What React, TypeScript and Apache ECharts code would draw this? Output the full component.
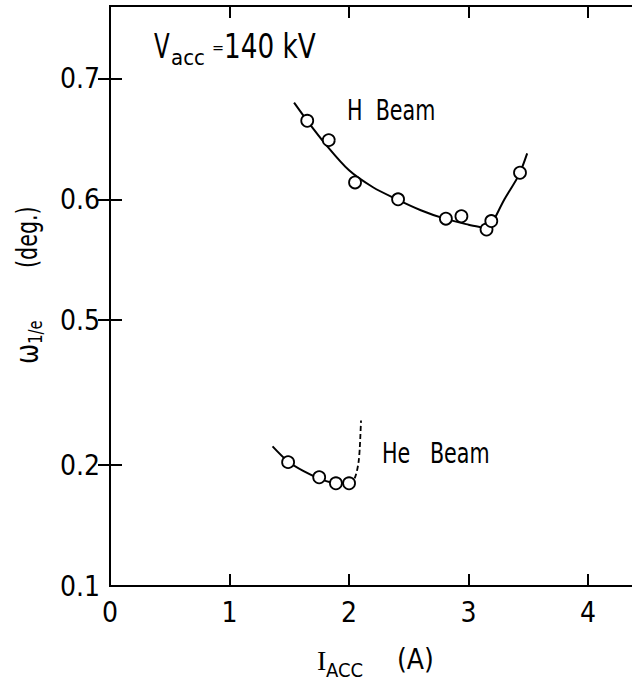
import React, { useEffect, useRef } from "react";
import * as echarts from "echarts";

// ---- data ----
const H_POINTS_X = [1.65, 1.83, 2.05, 2.41, 2.81, 2.94, 3.15, 3.19, 3.43];
const H_POINTS_Y = [0.665, 0.649, 0.614, 0.6, 0.584, 0.586, 0.575, 0.582, 0.622];
const H_CURVE_X = [1.54, 1.65, 1.8, 2.0, 2.2, 2.4, 2.6, 2.8, 3.0, 3.1, 3.16, 3.19, 3.3, 3.42, 3.49];
const H_CURVE_Y = [0.68, 0.665, 0.646, 0.624, 0.61, 0.6, 0.591, 0.584, 0.579, 0.577, 0.576, 0.579, 0.6, 0.62, 0.638];

const HE_POINTS_X = [1.49, 1.75, 1.89, 2.0];
const HE_POINTS_Y = [0.2025, 0.19, 0.185, 0.185];
const HE_CURVE_X = [1.36, 1.49, 1.62, 1.75, 1.89, 2.0];
const HE_CURVE_Y = [0.2156, 0.203, 0.195, 0.189, 0.185, 0.185];
const HE_DASH_X = [2.0, 2.03, 2.06, 2.08, 2.09, 2.1];
const HE_DASH_Y = [0.185, 0.186, 0.193, 0.203, 0.215, 0.237];

const X_TICKS = [0, 1, 2, 3, 4];
const X_MAX = 4.367;
const Y_TICK_LABELS = [0.1, 0.2, 0.5, 0.6, 0.7];

// broken y axis: values above the break are shifted down
const BREAK_OFFSET = 0.18;
const toAxis = (v: number) => (v >= 0.35 ? v - BREAK_OFFSET : v);
const fromAxis = (t: number) => (t > 0.26 ? t + BREAK_OFFSET : t);

const FONT = "'Liberation Sans Narrow', 'DejaVu Sans Condensed', 'Liberation Sans', sans-serif";

const pairs = (xs: number[], ys: number[]) => xs.map((x, i) => [x, toAxis(ys[i])]);

export default function App() {
  const ref = useRef<HTMLDivElement>(null);
  useEffect(() => {
    document.body.style.margin = "0";
    const chart = echarts.init(ref.current!, undefined, { renderer: "svg" });
    const yVals = Y_TICK_LABELS.map(toAxis);
    const yTickVals = yVals.filter((v) => v > 0.1);
    const xTickVals = X_TICKS.filter((v) => v > 0);
    const axisLine = { show: true, lineStyle: { color: "#000", width: 2 } };
    const tick = { show: true, inside: true, length: 12, lineStyle: { color: "#000", width: 2 } };
    const marker = { color: "#fff", borderColor: "#000", borderWidth: 1.8, opacity: 1 };
    const axisStroke = { stroke: "#000", lineWidth: 2 };

    // dashed part of the left axis at the axis break
    const breakDashes: any[] = [];
    for (let y = 372; y < 420; y += 8) {
      breakDashes.push({ type: "line", shape: { x1: 110, y1: y, x2: 110, y2: y + 4.5 }, style: axisStroke, z: 100 });
    }

    chart.setOption({
      animation: false,
      backgroundColor: "#fff",
      grid: { left: 110, right: -2, top: 6, bottom: 99 },
      xAxis: [
        {
          type: "value",
          min: 0,
          max: X_MAX,
          position: "bottom",
          axisLine,
          axisTick: { ...tick, customValues: xTickVals },
          axisLabel: {
            customValues: X_TICKS,
            margin: 12,
            color: "#000",
            fontSize: 28,
            fontFamily: FONT,
            formatter: (v: number) => String(v),
          },
          splitLine: { show: false },
        },
        {
          type: "value",
          min: 0,
          max: X_MAX,
          position: "top",
          axisLine,
          axisTick: { ...tick, customValues: xTickVals },
          axisLabel: { show: false },
          splitLine: { show: false },
        },
      ],
      yAxis: [
        {
          type: "value",
          min: 0.1,
          max: 0.58,
          position: "left",
          axisLine: { show: false },
          axisTick: { ...tick, customValues: yTickVals },
          axisLabel: {
            customValues: yVals,
            margin: 10,
            color: "#000",
            fontSize: 28,
            fontFamily: FONT,
            formatter: (v: number) => fromAxis(v).toFixed(1),
          },
          splitLine: { show: false },
        },
        {
          type: "value",
          min: 0.1,
          max: 0.58,
          position: "right",
          axisLine,
          axisTick: { ...tick, customValues: yTickVals },
          axisLabel: { show: false },
          splitLine: { show: false },
        },
      ],
      series: [
        {
          type: "line",
          data: pairs(H_CURVE_X, H_CURVE_Y),
          smooth: 0.3,
          showSymbol: false,
          lineStyle: { color: "#000", width: 2 },
          z: 2,
        },
        {
          type: "line",
          data: pairs(HE_CURVE_X, HE_CURVE_Y),
          smooth: 0.3,
          showSymbol: false,
          lineStyle: { color: "#000", width: 2 },
          z: 2,
        },
        {
          type: "line",
          data: pairs(HE_DASH_X, HE_DASH_Y),
          smooth: 0.3,
          showSymbol: false,
          lineStyle: { color: "#000", width: 1.8, type: [5, 3] },
          z: 2,
        },
        {
          type: "scatter",
          data: pairs(H_POINTS_X, H_POINTS_Y),
          symbol: "circle",
          symbolSize: 12,
          itemStyle: marker,
          z: 3,
        },
        {
          type: "scatter",
          data: pairs(HE_POINTS_X, HE_POINTS_Y),
          symbol: "circle",
          symbolSize: 12,
          itemStyle: marker,
          z: 3,
        },
      ],
      graphic: [
        // left axis: solid, dashed (axis break), solid
        { type: "line", shape: { x1: 110, y1: 5, x2: 110, y2: 372 }, style: axisStroke, z: 100 },
        ...breakDashes,
        { type: "line", shape: { x1: 110, y1: 420, x2: 110, y2: 587 }, style: axisStroke, z: 100 },
        { type: "text", x: 154, y: 46, scaleX: 0.75, style: { text: "V", font: `34px ${FONT}`, fill: "#000", align: "left", verticalAlign: "middle" }, z: 100 },
        { type: "text", x: 171, y: 57, style: { text: "acc", font: `22px ${FONT}`, fill: "#000", align: "left", verticalAlign: "middle" }, z: 100 },
        { type: "text", x: 212, y: 47, style: { text: "=", font: `16px ${FONT}`, fill: "#000", align: "left", verticalAlign: "middle" }, z: 100 },
        { type: "text", x: 224, y: 46, scaleX: 0.86, style: { text: "140 kV", font: `34px ${FONT}`, fill: "#000", align: "left", verticalAlign: "middle" }, z: 100 },
        { type: "text", x: 347, y: 110, scaleX: 0.82, style: { text: "H  Beam", font: `28px ${FONT}`, fill: "#000", align: "left", verticalAlign: "middle" }, z: 100 },
        { type: "text", x: 382, y: 453, scaleX: 0.82, style: { text: "He   Beam", font: `28px ${FONT}`, fill: "#000", align: "left", verticalAlign: "middle" }, z: 100 },
        {
          type: "text",
          x: 27,
          y: 285,
          rotation: Math.PI / 2,
          scaleX: 0.82,
          style: {
            text: "{w|ω}{s|1/e}{g|        (deg.)}",
            align: "center",
            verticalAlign: "middle",
            fill: "#000",
            rich: {
              w: { fontSize: 32, fontFamily: FONT, lineHeight: 36, verticalAlign: "middle" },
              s: { fontSize: 20, fontFamily: FONT, lineHeight: 36, verticalAlign: "bottom" },
              g: { fontSize: 28, fontFamily: FONT, lineHeight: 36, verticalAlign: "middle" },
            },
          },
          z: 100,
        },
        { type: "text", x: 317, y: 660, style: { text: "I", font: `28px 'Liberation Serif', serif`, fill: "#000", align: "left", verticalAlign: "middle" }, z: 100 },
        { type: "text", x: 326, y: 670, style: { text: "ACC", font: `20px ${FONT}`, fill: "#000", align: "left", verticalAlign: "middle" }, z: 100 },
        { type: "text", x: 397, y: 659, style: { text: "(A)", font: `28px ${FONT}`, fill: "#000", align: "left", verticalAlign: "middle" }, z: 100 },
      ],
    });
    return () => chart.dispose();
  }, []);
  return <div ref={ref} style={{ width: 632, height: 685 }} />;
}
